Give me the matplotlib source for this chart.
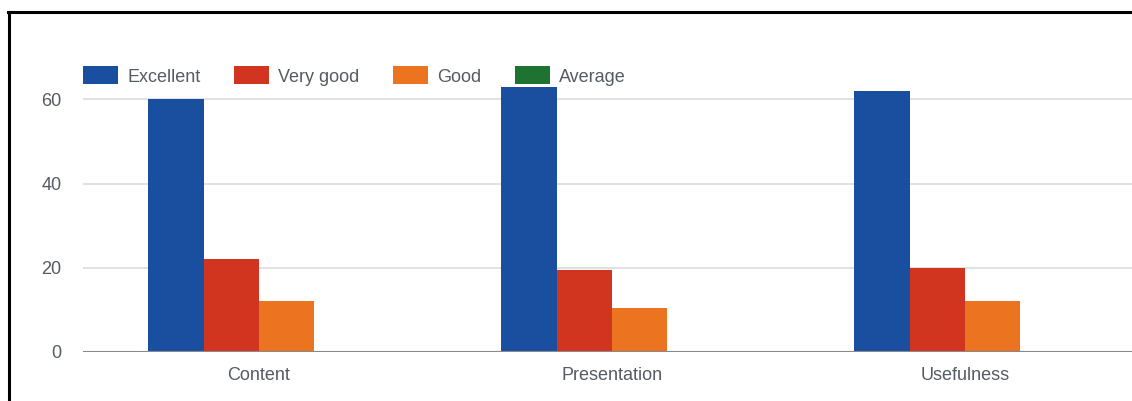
import numpy as np
import matplotlib
matplotlib.use("Agg")
from matplotlib import pyplot as plt
from matplotlib.lines import Line2D

categories = ["Content", "Presentation", "Usefulness"]
series = ["Excellent", "Very good", "Good", "Average"]
excellent = [60, 63, 62]
very_good = [22, 19.5, 20]
good = [12, 10.5, 12]
average = [0, 0, 0]
colors = ["#1a4fa0", "#d2351f", "#ec7420", "#1e7330"]

plt.rcParams["font.family"] = ["Liberation Sans", "DejaVu Sans"]
text_color = "#555b62"

fig = plt.figure(figsize=(11.32, 4.01), dpi=100)
W, H = 1132, 401
# plot area in pixels: left 82.5, right ~1141 (cut off), y=0 at 352, y=80 at 15
ax = fig.add_axes([82.5 / W, (H - 352) / H, (1141.5 - 82.5) / W, 337 / H])

x = np.arange(len(categories))
width = 0.157
values = [excellent, very_good, good, average]
for i, (name, vals) in enumerate(zip(series, values)):
    offset = (i - 1.5) * width
    ax.bar(x + offset, vals, width, color=colors[i], label=name, zorder=3, linewidth=0)

ax.set_xlim(-0.5, len(categories) - 0.5)
ax.set_ylim(0, 80)
ax.set_yticks([0, 20, 40, 60])
ax.set_xticks(x)
ax.set_xticklabels(categories)
ax.tick_params(axis="both", length=0, labelsize=13, colors=text_color)
ax.tick_params(axis="y", pad=15)
ax.tick_params(axis="x", pad=11)
ax.grid(axis="y", color="#dcdcdc", linewidth=1.2, zorder=0)
for s in ax.spines.values():
    s.set_visible(False)
ax.axhline(0, color="#8a8a8a", linewidth=1.5, zorder=4)

leg = fig.legend(loc="center left", bbox_to_anchor=(83 / W, 1 - 76 / H), ncol=4,
                 frameon=False, fontsize=13, handlelength=1.95, handleheight=1.15,
                 handletextpad=0.5, columnspacing=1.85, borderpad=0, borderaxespad=0)
for t in leg.get_texts():
    t.set_color(text_color)

# scanned frame border (left and top edges visible)
fig.add_artist(Line2D([9 / W, 9 / W], [0, 1 - 12 / H], color="black", linewidth=2.2, transform=fig.transFigure))
fig.add_artist(Line2D([8 / W, 1], [1 - 12 / H, 1 - 12 / H], color="black", linewidth=2.2, transform=fig.transFigure))

fig.savefig("out.png", dpi=100)
